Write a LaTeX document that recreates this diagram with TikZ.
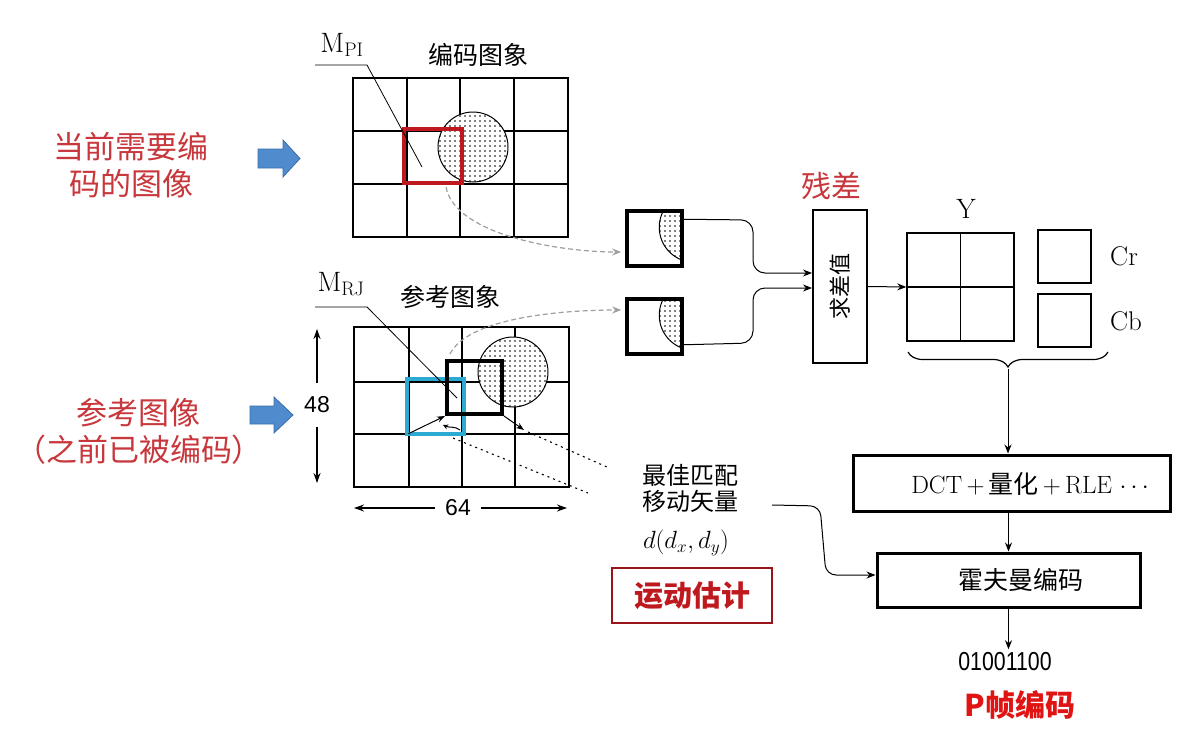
\documentclass[tikz,border=0pt]{standalone}
\usepackage{fontspec}
\newfontfamily\cjk{Noto Sans CJK SC}
\newfontfamily\arial{Liberation Sans}
\newfontfamily\narrow{Liberation Sans}[FakeStretch=0.82]
\usetikzlibrary{arrows.meta,calc,patterns.meta,decorations.pathreplacing}
\definecolor{lblred}{RGB}{200,55,60}
\definecolor{brred}{RGB}{225,20,20}
\definecolor{sqred}{RGB}{190,25,30}
\definecolor{sqcyan}{RGB}{45,170,210}
\definecolor{bluefill}{RGB}{80,140,205}
\definecolor{blueedge}{RGB}{60,110,170}
\newcommand{\fs}[1]{\fontsize{#1}{#1}\selectfont}
\begin{document}
\begin{tikzpicture}[x=1pt,y=-1pt,
  gridline/.style={line width=1.5pt},
  arr/.style={-{Stealth[length=9pt,width=7pt]}, line width=1pt},
  dimarr/.style={-{Stealth[length=10pt,width=7pt]}, line width=1.3pt},
  gdash/.style={draw=gray!75, line width=1.2pt, dash pattern=on 5pt off 3pt, -{Stealth[length=9pt,width=7pt]}},
  dotline/.style={line width=1.1pt, dash pattern=on 2pt off 4pt},
  dotfill/.style={pattern={Dots[radius=0.8pt,distance=5pt]}},
  smallbox/.style={draw, line width=3.5pt, minimum width=55pt, minimum height=55pt, inner sep=0pt},
  blockarrow/.style={fill=bluefill, draw=blueedge, line width=0.8pt},
  lbl/.style={text=lblred, align=center, font=\cjk\fontsize{31}{37}\selectfont},
  plainbox/.style={draw, inner sep=0pt},
]
\useasboundingbox (0,0) rectangle (1194,731);
\fill[white] (0,0) rectangle (1194,731);

% ---------- left labels and blue arrows
\node[lbl] (lcur) at (131,165) {当前需要编\\码的图像};
\node[lbl] (lref) at (139,431) {参考图像\\（之前已被编码）};
\draw[blockarrow] (258,149) -- (283,149) -- (283,140) -- (300,158.5) -- (283,177) -- (283,168) -- (258,168) -- cycle;
\draw[blockarrow] (250,406) -- (274,406) -- (274,397) -- (293,415) -- (274,433) -- (274,424) -- (250,424) -- cycle;

% ---------- top (current) picture
\node[plainbox, gridline, minimum width=215pt, minimum height=159pt] (g1) at (460.5,157.5) {};
\foreach \x in {407,460,514} \draw[gridline] (\x,78) -- (\x,237);
\foreach \y in {131,184} \draw[gridline] (353,\y) -- (568,\y);
\draw[fill=white, line width=1pt] (473,147) circle (35);
\fill[dotfill] (473,147) circle (35);
\node[draw=sqred, line width=4pt, minimum width=58pt, minimum height=54pt, inner sep=0pt] (rs) at (433,156) {};
\node[font=\cjk\fs{25}] (t1) at (478,55) {编码图象};
\node[font=\fs{28}, inner sep=1pt] (mpi) at (342,45) {M$_{\mathrm{PI}}$};
\coordinate (mpiA) at (315,65);
\coordinate (mpiB) at (367,65);
\coordinate (mpiC) at (422,167);
\draw[line width=0.8pt] (mpiA) -- (mpiB) -- (mpiC);

% ---------- bottom (reference) picture
\node[plainbox, gridline, minimum width=215pt, minimum height=160pt] (g2) at (461.5,407) {};
\foreach \x in {409,462,515} \draw[gridline] (\x,327) -- (\x,487);
\foreach \y in {382,434} \draw[gridline] (354,\y) -- (569,\y);
\draw[fill=white, line width=1pt] (513,372) circle (35);
\fill[dotfill] (513,372) circle (35);
\node[draw=sqcyan, line width=3.5pt, minimum width=57pt, minimum height=55pt, inner sep=0pt] (cs) at (435.5,406.5) {};
\node[draw, line width=4pt, minimum width=55pt, minimum height=53pt, inner sep=0pt] (bs) at (474.5,387.5) {};
\node[font=\cjk\fs{25}] (t2) at (450,297) {参考图象};
\node[font=\fs{28}, inner sep=1pt] (mrj) at (341,284) {M$_{\mathrm{RJ}}$};
\coordinate (mrjA) at (315,307);
\coordinate (mrjB) at (367,307);
\coordinate (mrjC) at (457,398);
\draw[line width=0.8pt] (mrjA) -- (mrjB) -- (mrjC);
\draw[arr, -{Stealth[length=8pt,width=6pt]}] ($(cs.south west)+(3,-2)$) -- (bs.south west);
\draw[arr, -{Stealth[length=8pt,width=6pt]}] (bs.south east) -- ($(bs.south east)+(20,14)$);
\draw[line width=1pt, -{Stealth[length=5pt,width=5pt]}] (460,430) .. controls (455,426) and (450,428) .. (443,425);
\coordinate (dl1) at (607,467);
\coordinate (dl2) at (588,493);
\draw[dotline] ($(bs.south east)+(24,16)$) -- (dl1);
\draw[dotline] ($(bs.south west)+(8,22)$) -- (dl2);

% dimensions
\node[font=\arial\fs{23}, inner sep=2pt] (n48) at (317,405) {48};
\coordinate (d48t) at (317,329);
\coordinate (d48b) at (317,483);
\draw[dimarr] ($(n48.north)+(0,-12)$) -- (d48t);
\draw[dimarr] ($(n48.south)+(0,12)$) -- (d48b);
\node[font=\arial\fs{23}, inner xsep=10pt] (n64) at (458,508) {64};
\coordinate (d64l) at (354,508);
\coordinate (d64r) at (567,508);
\draw[dimarr] (n64.west) -- (d64l);
\draw[dimarr] (n64.east) -- (d64r);

% ---------- small blocks
\node[smallbox] (sb1) at (654.5,238.5) {};
\node[smallbox] (sb2) at (654.5,326.5) {};
\foreach \b in {sb1,sb2}{
  \begin{scope}
    \clip (\b.south west) rectangle (\b.north east);
    \draw[line width=1pt, fill=white] ($(\b.north west)+(69,18)$) circle (35);
    \fill[dotfill] ($(\b.north west)+(69,18)$) circle (35);
  \end{scope}
  \node[smallbox] at (\b) {};
}
\draw[gdash] ($(rs.south)+(13,2)$) .. controls (455,235) and (560,252) .. ($(sb1.west)+(-4,13.5)$);
\draw[gdash] ($(bs.north west)+(5,-5)$) .. controls (468,318) and (560,310) .. ($(sb2.west)+(-4,-16.5)$);

% ---------- difference block
\node[draw, line width=2pt, minimum width=54pt, minimum height=153pt, inner sep=0pt] (qc) at (840,286.5) {\rotatebox{90}{\cjk\fs{22}求差值}};
\node[font=\cjk\fs{30}, text=lblred] (cc) at (831,186) {残差};
\draw[arr, rounded corners=12pt] ($(sb1.north east)+(0,10)$) -- (753,220) -- (753,273) -- ($(qc.west)+(0,-13.5)$);
\draw[arr, rounded corners=12pt] ($(sb2.south east)+(0,-11)$) -- (753,343) -- (753,288) -- ($(qc.west)+(0,1.5)$);

% ---------- Y Cr Cb
\node[draw, line width=1.5pt, minimum width=107pt, minimum height=108pt, inner sep=0pt] (yg) at (960.5,287) {};
\draw[line width=1.5pt] (yg.north) -- (yg.south);
\draw[line width=1.5pt] (yg.west) -- (yg.east);
\node[draw, line width=1.5pt, minimum width=53pt, minimum height=53pt, inner sep=0pt] (cr) at (1064.5,256.5) {};
\node[draw, line width=1.5pt, minimum width=53pt, minimum height=53pt, inner sep=0pt] (cb) at (1064.5,320.5) {};
\node[font=\fs{28}] (ylab) at (966,209) {Y};
\node[font=\fs{27}] (crlab) at (1124,256) {Cr};
\node[font=\fs{27}] (cblab) at (1126,321) {Cb};
\draw[arr] (qc.east) -- (yg.west);
\draw[line width=1.2pt, decorate, decoration={brace, amplitude=15pt}] (1108,352) -- (908,352) coordinate[midway] (bmid);
\coordinate (btip) at (1008,369);

% ---------- DCT / Huffman
\node[draw, line width=3pt, minimum width=317pt, minimum height=56pt, inner sep=0pt] (dct) at (1011.5,483) {};
\node[font=\fs{25}] (dcttxt) at (1030,484) {DCT\,+\,{\cjk 量化}\,+\,RLE $\cdots$};
\node[draw, line width=3pt, minimum width=263pt, minimum height=54pt, inner sep=0pt] (huf) at (1008.5,580) {};
\node[font=\cjk\fs{25}] (huftxt) at (1021,580) {霍夫曼编码};
\draw[arr] (btip) -- (btip |- dct.north);
\draw[arr] (huf.north |- dct.south) -- (huf.north);
\node[font=\narrow\fs{26}] (out) at (1005,662) {01001100};
\draw[arr] (huf.south) -- (huf.south |- out.north);
\node[font=\cjk\bfseries\fs{30}, text=brred] (pf) at (1020,705) {P帧编码};

% ---------- motion vector
\node[font=\cjk\fs{24}, align=center, inner sep=1pt] (mv) at (690,488) {最佳匹配\\[2pt]移动矢量};
\node[font=\fs{25}] (dd) at (686,543) {$d(d_{x}, d_{y})$};
\node[draw=sqred!80!black, line width=1.2pt, minimum width=160pt, minimum height=55pt, font=\cjk\bfseries\fs{29}, text=sqred] (me) at (692,595.5) {运动估计};
\draw[arr, rounded corners=10pt] ($(mv.east)+(33,17)$) -- (820,506) -- (826,575) -- ($(huf.west)+(0,-5)$);
\end{tikzpicture}
\end{document}
